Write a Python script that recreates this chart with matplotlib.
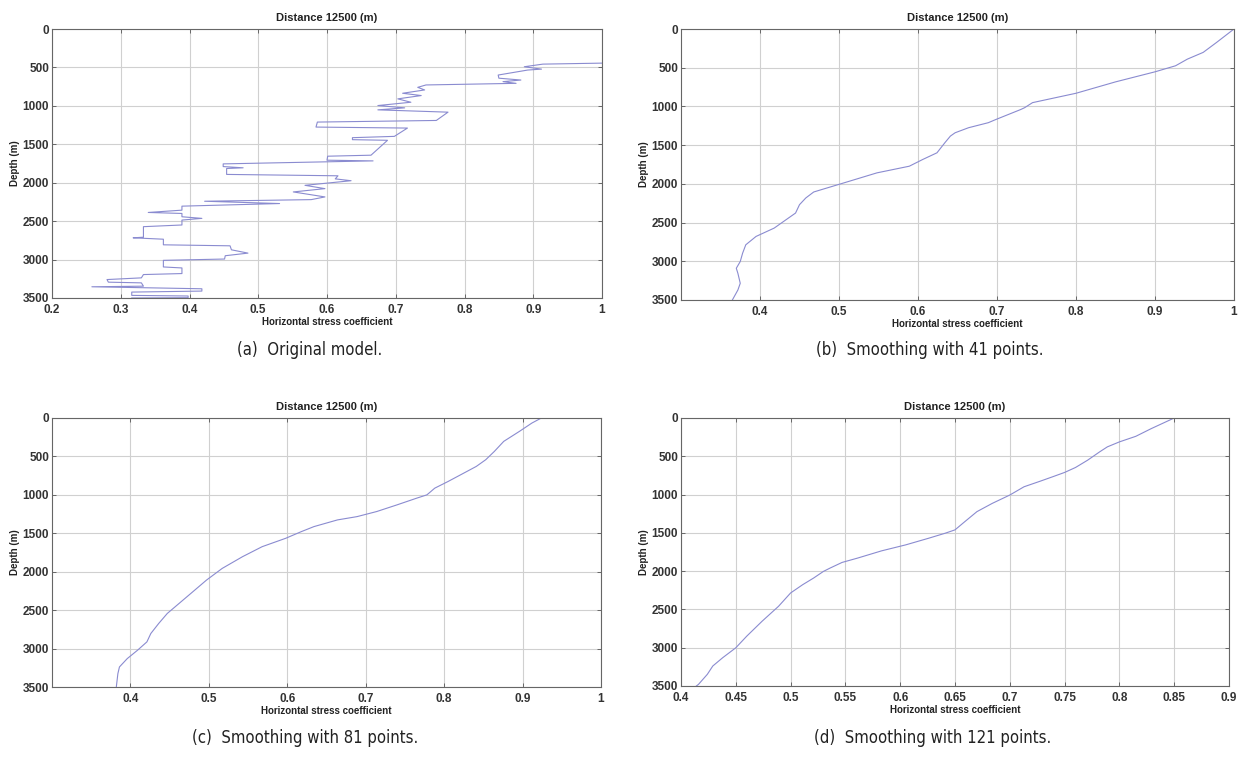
import matplotlib
matplotlib.use("Agg")
import matplotlib.pyplot as plt
import numpy as np

# ---------------- data ----------------
# (a) original model (coefficient, depth)
coef_a = [1.00, 0.914, 0.887, 0.912, 0.892, 0.849, 0.850, 0.882, 0.856, 0.875,
          0.744, 0.732, 0.742, 0.710, 0.737, 0.703, 0.722, 0.674, 0.713, 0.674,
          0.776, 0.759, 0.586, 0.584, 0.717, 0.698, 0.637, 0.637, 0.688, 0.664,
          0.601, 0.600, 0.667, 0.449, 0.449, 0.478, 0.454, 0.454, 0.616, 0.612,
          0.635, 0.568, 0.597, 0.551, 0.597, 0.577, 0.422, 0.531, 0.389, 0.389,
          0.340, 0.389, 0.389, 0.418, 0.389, 0.389, 0.333, 0.333, 0.318, 0.362,
          0.362, 0.459, 0.461, 0.485, 0.452, 0.451, 0.362, 0.362, 0.389, 0.389,
          0.333, 0.330, 0.280, 0.282, 0.330, 0.333, 0.258, 0.418, 0.418, 0.316,
          0.316, 0.398, 0.398, 0.316]
depth_a = [444, 457, 491, 522, 534, 599, 640, 664, 685, 707,
           728, 759, 793, 836, 866, 909, 953, 996, 1026, 1052,
           1082, 1190, 1211, 1276, 1289, 1397, 1414, 1440, 1448, 1642,
           1655, 1707, 1716, 1755, 1790, 1806, 1815, 1892, 1910, 1950,
           1974, 2034, 2077, 2120, 2185, 2220, 2241, 2271, 2305, 2357,
           2387, 2400, 2443, 2464, 2486, 2550, 2572, 2709, 2717, 2735,
           2808, 2821, 2873, 2916, 2950, 2993, 3010, 3096, 3109, 3182,
           3195, 3238, 3260, 3294, 3303, 3346, 3354, 3380, 3410, 3423,
           3466, 3474, 3496, 3500]

# (b) smoothing with 41 points
coef_b = [1.000, 0.978, 0.961, 0.941, 0.926, 0.900, 0.850, 0.800, 0.755, 0.745,
          0.735, 0.730, 0.699, 0.689, 0.664, 0.647, 0.641, 0.634, 0.624, 0.606,
          0.589, 0.548, 0.506, 0.478, 0.468, 0.458, 0.450, 0.445, 0.433, 0.418,
          0.395, 0.382, 0.378, 0.375, 0.370, 0.372, 0.375, 0.372, 0.365]
depth_b = [0, 173, 302, 389, 475, 553, 683, 830, 929, 951,
           1016, 1040, 1167, 1210, 1275, 1340, 1383, 1469, 1599, 1685,
           1772, 1858, 1988, 2074, 2105, 2182, 2269, 2377, 2463, 2571,
           2679, 2787, 2895, 3003, 3090, 3155, 3284, 3371, 3500]

# (c) smoothing with 81 points
coef_c = [0.924, 0.912, 0.896, 0.876, 0.864, 0.853, 0.841, 0.821, 0.805, 0.788,
          0.783, 0.778, 0.765, 0.740, 0.714, 0.689, 0.664, 0.634, 0.618, 0.598,
          0.568, 0.543, 0.517, 0.497, 0.477, 0.462, 0.447, 0.436, 0.426, 0.421,
          0.409, 0.396, 0.386, 0.384, 0.382]
depth_c = [0, 65, 174, 304, 435, 543, 630, 739, 826, 913,
           957, 1000, 1043, 1130, 1217, 1283, 1326, 1413, 1478, 1565,
           1674, 1804, 1957, 2109, 2283, 2413, 2543, 2674, 2804, 2913,
           3022, 3130, 3239, 3326, 3500]

# (d) smoothing with 121 points
coef_d = [0.850, 0.829, 0.815, 0.800, 0.789, 0.782, 0.771, 0.760, 0.750, 0.739,
          0.728, 0.713, 0.700, 0.684, 0.670, 0.659, 0.650, 0.641, 0.626, 0.605,
          0.583, 0.561, 0.547, 0.536, 0.530, 0.521, 0.511, 0.500, 0.489, 0.474,
          0.460, 0.450, 0.438, 0.429, 0.424, 0.416, 0.414]
depth_d = [0, 139, 239, 312, 377, 442, 551, 646, 711, 768,
           824, 898, 1006, 1115, 1223, 1353, 1461, 1505, 1570, 1657,
           1735, 1830, 1886, 1960, 2003, 2090, 2177, 2285, 2459, 2654,
           2849, 3001, 3131, 3239, 3348, 3478, 3500]

title_text = "Distance 12500 (m)"
xlabel_text = "Horizontal stress coefficient"
ylabel_text = "Depth (m)"
captions = ["(a)  Original model.", "(b)  Smoothing with 41 points.",
            "(c)  Smoothing with 81 points.", "(d)  Smoothing with 121 points."]

depth_ticks = [0, 500, 1000, 1500, 2000, 2500, 3000, 3500]
xticks_a = [0.2, 0.3, 0.4, 0.5, 0.6, 0.7, 0.8, 0.9, 1.0]
xticks_bc = [0.4, 0.5, 0.6, 0.7, 0.8, 0.9, 1.0]
xticks_d = [0.4, 0.45, 0.5, 0.55, 0.6, 0.65, 0.7, 0.75, 0.8, 0.85, 0.9]
xlims = [(0.2, 1.0), (0.3, 1.0), (0.3, 1.0), (0.4, 0.9)]

# ---------------- figure ----------------
W, H = 1238, 760
fig = plt.figure(figsize=(W / 100, H / 100), dpi=100)
fig.patch.set_facecolor("white")

boxes = [(52, 602, 29, 298), (681, 1234, 29, 300), (52, 601, 418, 687), (681, 1229, 418, 686)]
series = [(coef_a, depth_a), (coef_b, depth_b), (coef_c, depth_c), (coef_d, depth_d)]
xtick_sets = [xticks_a, xticks_bc, xticks_bc, xticks_d]
cap_pos = [(310, 350), (930, 350), (305, 738), (933, 738)]

line_color = "#8a8bd0"
sans = ["Liberation Sans", "DejaVu Sans"]
tick_font = dict(family=sans, size=8.5, weight="bold", color="#333333")


def fmt(v):
    s = ("%.2f" % v).rstrip("0").rstrip(".")
    return s


for i, ((l, r, t, b), (cx, dy), xt, xl, (capx, capy)) in enumerate(
        zip(boxes, series, xtick_sets, xlims, cap_pos)):
    ax = fig.add_axes([l / W, 1 - b / H, (r - l) / W, (b - t) / H])
    ax.plot(cx, dy, color=line_color, lw=0.8)
    ax.set_xlim(*xl)
    ax.set_ylim(3500, 0)
    ax.set_xticks(xt)
    ax.set_xticklabels([fmt(v) for v in xt], fontdict=tick_font)
    ax.set_yticks(depth_ticks)
    ax.set_yticklabels([str(v) for v in depth_ticks], fontdict=tick_font)
    ax.grid(True, color="#d0d0d0", lw=0.8, ls="-")
    ax.set_axisbelow(True)
    ax.tick_params(direction="in", length=3, width=0.6, top=True, right=True,
                   colors="#555555", labelcolor="#333333")
    ax.tick_params(axis="x", pad=4)
    ax.tick_params(axis="y", pad=2)
    for sp in ax.spines.values():
        sp.set_color("#666666")
        sp.set_linewidth(0.8)
    ax.set_title(title_text, fontsize=8, fontweight="bold", family=sans,
                 pad=6, color="#222222")
    ax.set_xlabel(xlabel_text, fontsize=7, fontweight="bold", family=sans,
                  labelpad=1, color="#222222")
    ax.set_ylabel(ylabel_text, fontsize=7, fontweight="bold", family=sans,
                  labelpad=2, color="#222222")
    fig.text(capx / W, 1 - capy / H, captions[i], ha="center", va="center",
             fontsize=12, family=["Liberation Sans Narrow", "DejaVu Sans"],
             fontstretch="condensed", color="#222222")

fig.savefig("out.png", dpi=100, facecolor="white")
